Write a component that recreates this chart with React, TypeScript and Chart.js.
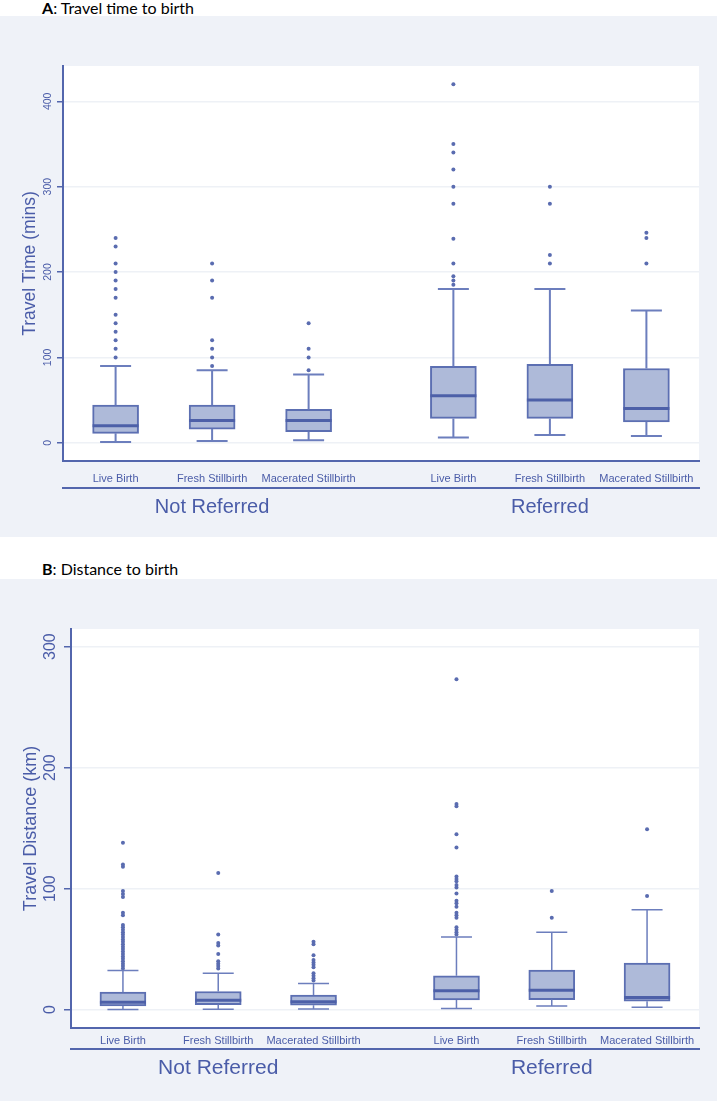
import React, { useEffect, useRef } from 'react';
import { Chart, registerables } from 'chart.js';

Chart.register(...registerables);

// ---------- shared categories ----------
const categories = ['Live Birth', 'Fresh Stillbirth', 'Macerated Stillbirth', 'Live Birth', 'Fresh Stillbirth', 'Macerated Stillbirth'];
const categoryPositions = [0, 1, 2, 3.5, 4.5, 5.5];
const groupLabels = ['Not Referred', 'Referred'];
const groupPositions = [1, 4.5];

// ---------- Panel A: travel time (mins) ----------
const timeTicks = [0, 100, 200, 300, 400];
const timeLower = [1, 2, 3, 6, 9, 8];
const timeQ1 = [11, 16, 13, 28.5, 28.5, 24.5];
const timeMedian = [20, 26, 26, 55, 50, 40];
const timeQ3 = [44, 44, 39, 89.5, 92, 87];
const timeUpper = [90, 85, 80, 180, 180, 155];
const timeOutliers = [
  [240, 230, 210, 200, 190, 180, 170, 150, 140, 130, 120, 110, 100],
  [210, 190, 170, 120, 110, 100, 90],
  [140, 110, 100, 85],
  [420, 350, 340, 320, 300, 280, 239, 210, 195, 190, 185],
  [300, 280, 220, 210],
  [246, 240, 210],
];

// ---------- Panel B: travel distance (km) ----------
const distTicks = [0, 100, 200, 300];
const distLower = [0, 0.3, 0.5, 1, 3, 2];
const distQ1 = [3, 4, 3.6, 8, 8.3, 7];
const distMedian = [6, 7.7, 6.4, 15.5, 16, 10];
const distQ3 = [14.4, 15, 12, 28, 32.6, 38.4];
const distUpper = [32.3, 30, 21.6, 60, 64, 82.5];
const distOutliers = [
  [138, 120, 118, 98, 95.5, 93, 80, 78, 70, 68, 66, 64, 62, 60, 58, 56, 54, 52, 50, 48, 46, 44, 42, 40, 38, 36, 34],
  [113, 62, 55, 53, 46, 40, 38, 36, 34],
  [56, 54, 45, 41, 39, 37, 35, 30, 28, 26, 24],
  [273, 170, 168, 145, 134, 110, 108, 106, 103, 101, 96, 90, 88, 85, 80, 78, 76, 68, 66, 64, 62],
  [98, 76],
  [149, 94],
];

// ---------- styles ----------
const BG = '#eff2f8';
const AXIS = '#5366ad';
const TEXT = '#4a5ca8';
const BOX_FILL = '#aebad9';
const BOX_BORDER = '#5c6fb2';
const MEDIAN = '#4d60a8';
const WHISKER = '#6c7ebd';
const DOT = '#5a6cb0';
const GRID = '#eef1f6';
const SANS = "'Liberation Sans', Arial, sans-serif";

if (typeof document !== 'undefined') {
  document.body.style.margin = '0';
}

type PanelCfg = {
  lower: number[]; q1: number[]; median: number[]; q3: number[]; upper: number[];
  outliers: number[][]; ticks: number[]; yMin: number; yMax: number; yTitle: string;
  height: number; left: number; tickFont: number; tickPad: number; tickLen: number;
  titleFont: number; titlePad: number; xHeight: number; xPad: number; x2Height: number;
  x2Pad: number; groupFont: number; whiskerWidth: number;
};

function buildConfig(c: PanelCfg): any {
  const xMin = -0.545;
  const xMax = 6.045;
  const boxPoints = categoryPositions.map((p, i) => ({ x: p, y: [c.q1[i], c.q3[i]] }));
  const outlierPoints = c.outliers.flatMap((list, i) => list.map((v) => ({ x: categoryPositions[i], y: v })));

  const plotBg = {
    id: 'plotBg',
    beforeDraw(chart: any) {
      const { ctx, chartArea } = chart;
      ctx.save();
      ctx.fillStyle = '#ffffff';
      ctx.fillRect(chartArea.left, chartArea.top, chartArea.right - chartArea.left, chartArea.bottom - chartArea.top);
      ctx.restore();
    },
  };

  const whiskers = {
    id: 'whiskers',
    afterDatasetsDraw(chart: any) {
      const { ctx } = chart;
      const x = chart.scales.x;
      const y = chart.scales.y;
      ctx.save();
      categoryPositions.forEach((pos, i) => {
        const cx = x.getPixelForValue(pos);
        const half = 15.5;
        const boxHalf = 23;
        ctx.strokeStyle = WHISKER;
        ctx.lineWidth = c.whiskerWidth;
        ctx.beginPath();
        ctx.moveTo(cx, y.getPixelForValue(c.q3[i]));
        ctx.lineTo(cx, y.getPixelForValue(c.upper[i]));
        ctx.moveTo(cx - half, y.getPixelForValue(c.upper[i]));
        ctx.lineTo(cx + half, y.getPixelForValue(c.upper[i]));
        ctx.moveTo(cx, y.getPixelForValue(c.q1[i]));
        ctx.lineTo(cx, y.getPixelForValue(c.lower[i]));
        ctx.moveTo(cx - half, y.getPixelForValue(c.lower[i]));
        ctx.lineTo(cx + half, y.getPixelForValue(c.lower[i]));
        ctx.stroke();
        ctx.strokeStyle = MEDIAN;
        ctx.lineWidth = 3;
        ctx.beginPath();
        ctx.moveTo(cx - boxHalf, y.getPixelForValue(c.median[i]));
        ctx.lineTo(cx + boxHalf, y.getPixelForValue(c.median[i]));
        ctx.stroke();
      });
      ctx.restore();
    },
  };

  return {
    type: 'bar',
    data: {
      datasets: [
        {
          type: 'bar',
          data: boxPoints,
          backgroundColor: BOX_FILL,
          borderColor: BOX_BORDER,
          borderWidth: 2,
          borderSkipped: false,
          barThickness: 46,
          xAxisID: 'x',
          yAxisID: 'y',
        },
        {
          type: 'scatter',
          data: outlierPoints,
          pointRadius: 2,
          pointBackgroundColor: DOT,
          pointBorderWidth: 0,
          showLine: false,
          xAxisID: 'x',
          yAxisID: 'y',
        },
      ],
    },
    options: {
      responsive: false,
      animation: false,
      devicePixelRatio: 1,
      events: [],
      layout: { padding: { top: 50, right: 18, left: 0, bottom: 0 } },
      plugins: { legend: { display: false }, tooltip: { enabled: false } },
      scales: {
        x: {
          type: 'linear',
          position: 'bottom',
          weight: 0,
          min: xMin,
          max: xMax,
          offset: false,
          afterBuildTicks: (s: any) => { s.ticks = categoryPositions.map((v) => ({ value: v })); },
          afterFit: (s: any) => { s.height = c.xHeight; },
          ticks: {
            autoSkip: false, maxRotation: 0, minRotation: 0, padding: c.xPad, color: TEXT,
            font: { family: SANS, size: 11 },
            callback: (_v: any, i: number) => categories[i],
          },
          grid: { display: false, drawTicks: false },
          border: { display: true, color: AXIS, width: 2 },
        },
        x2: {
          type: 'linear',
          position: 'bottom',
          weight: 1,
          min: xMin,
          max: xMax,
          offset: false,
          afterBuildTicks: (s: any) => { s.ticks = groupPositions.map((v) => ({ value: v })); },
          afterFit: (s: any) => { s.height = c.x2Height; },
          ticks: {
            autoSkip: false, maxRotation: 0, minRotation: 0, padding: c.x2Pad, color: TEXT,
            font: { family: SANS, size: c.groupFont },
            callback: (_v: any, i: number) => groupLabels[i],
          },
          grid: { display: false, drawTicks: false },
          border: { display: true, color: AXIS, width: 2 },
        },
        y: {
          type: 'linear',
          position: 'left',
          min: c.yMin,
          max: c.yMax,
          afterBuildTicks: (s: any) => { s.ticks = c.ticks.map((v) => ({ value: v })); },
          afterFit: (s: any) => { s.width = c.left; },
          ticks: {
            minRotation: 90, maxRotation: 90, crossAlign: 'center', padding: c.tickPad, color: TEXT,
            font: { family: SANS, size: c.tickFont },
            callback: (v: any) => String(v),
          },
          grid: { color: GRID, lineWidth: 1.5, tickColor: AXIS, tickLength: c.tickLen, tickWidth: 1.5, drawTicks: true },
          border: { display: true, color: AXIS, width: 2 },
          title: {
            display: true, text: c.yTitle, color: TEXT,
            font: { family: SANS, size: c.titleFont },
            padding: { top: c.titlePad, bottom: 0 },
          },
        },
      },
    },
    plugins: [plotBg, whiskers],
  };
}

const panelA: PanelCfg = {
  lower: timeLower, q1: timeQ1, median: timeMedian, q3: timeQ3, upper: timeUpper,
  outliers: timeOutliers, ticks: timeTicks, yMin: -21.4, yMax: 441.4, yTitle: 'Travel Time (mins)',
  height: 521, left: 63, tickFont: 10.5, tickPad: 0, tickLen: 6, titleFont: 17.5, titlePad: 20,
  xHeight: 27, xPad: 11, x2Height: 49, x2Pad: 7, groupFont: 20, whiskerWidth: 2,
};

const panelB: PanelCfg = {
  lower: distLower, q1: distQ1, median: distMedian, q3: distQ3, upper: distUpper,
  outliers: distOutliers, ticks: distTicks, yMin: -15.2, yMax: 314.6, yTitle: 'Travel Distance (km)',
  height: 522, left: 71, tickFont: 16, tickPad: 0, tickLen: 7, titleFont: 18, titlePad: 20,
  xHeight: 21, xPad: 6, x2Height: 52, x2Pad: 7, groupFont: 21, whiskerWidth: 1.5,
};

function BoxPanel({ cfg }: { cfg: PanelCfg }) {
  const ref = useRef<HTMLCanvasElement>(null);
  useEffect(() => {
    if (!ref.current) return;
    const chart = new Chart(ref.current, buildConfig(cfg));
    return () => chart.destroy();
  }, [cfg]);
  return (
    <div style={{ background: BG, width: 717, height: cfg.height }}>
      <canvas ref={ref} width={717} height={cfg.height} style={{ display: 'block' }} />
    </div>
  );
}

const titleStyle: React.CSSProperties = {
  fontFamily: "Lato, 'Open Sans', sans-serif",
  fontSize: 16,
  lineHeight: '16px',
  color: '#000',
  paddingLeft: 42,
  boxSizing: 'border-box',
  whiteSpace: 'nowrap',
};

export default function App() {
  return (
    <div style={{ width: 717, background: '#fff' }}>
      <div style={{ ...titleStyle, height: 16 }}>
        <b>A</b>: Travel time to birth
      </div>
      <BoxPanel cfg={panelA} />
      <div style={{ ...titleStyle, height: 42, paddingTop: 24 }}>
        <b>B</b>: Distance to birth
      </div>
      <BoxPanel cfg={panelB} />
    </div>
  );
}
